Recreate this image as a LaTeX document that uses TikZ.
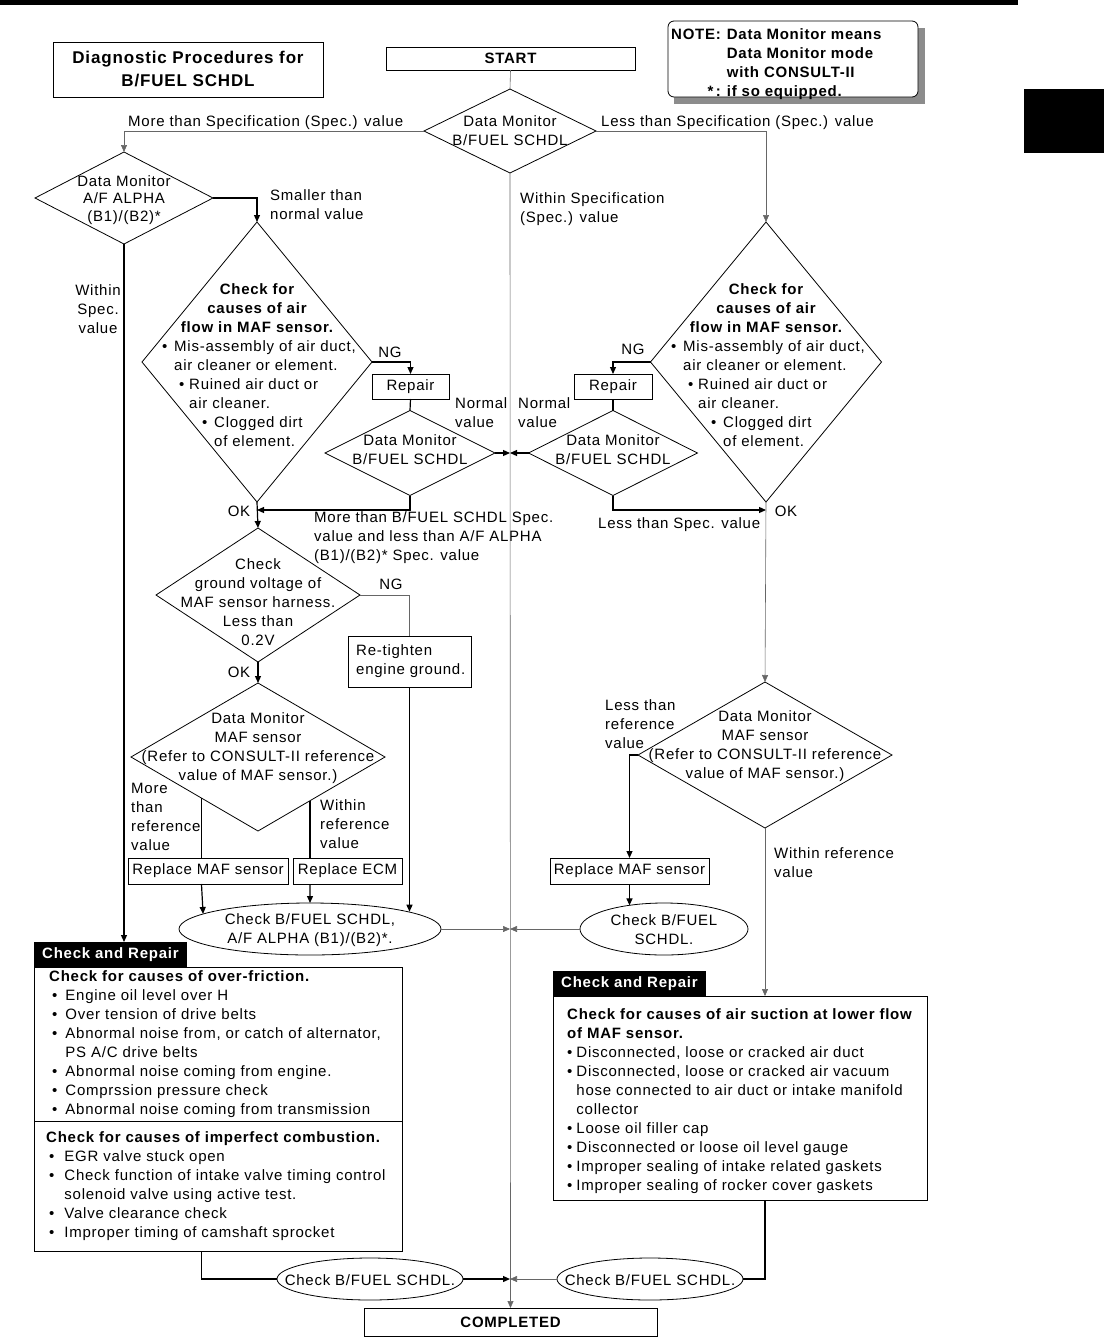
\documentclass[tikz,border=0pt]{standalone}
\usepackage{fontspec}
\setmainfont{Liberation Sans}[LetterSpace=5]
\usetikzlibrary{arrows.meta,calc,shapes.geometric}
\newcommand{\maftext}[1]{%
\node[bft,anchor=base] (#1a) at ($(#1.center)+(0,-68)$) {Check for};
\node[bft,anchor=base] (#1b) at ($(#1.center)+(0,-49)$) {causes of air};
\node[bft,anchor=base] (#1c) at ($(#1.center)+(0,-30)$) {flow in MAF sensor.};
\node[tl] (#1d) at ($(#1.center)+(-95,-11)$) {\textbullet};
\node[tl] (#1e) at ($(#1.center)+(-83,-11)$) {Mis-assembly of air duct,};
\node[tl] (#1f) at ($(#1.center)+(-83,8)$) {air cleaner or element.};
\node[tl] (#1g) at ($(#1.center)+(-78,27)$) {\textbullet};
\node[tl] (#1h) at ($(#1.center)+(-68,27)$) {Ruined air duct or};
\node[tl] (#1i) at ($(#1.center)+(-68,46)$) {air cleaner.};
\node[tl] (#1j) at ($(#1.center)+(-55,65)$) {\textbullet};
\node[tl] (#1k) at ($(#1.center)+(-43,65)$) {Clogged dirt};
\node[tl] (#1l) at ($(#1.center)+(-43,84)$) {of element.};
}
\begin{document}
\begin{tikzpicture}[x=1pt,y=-1pt,
  font=\fontsize{15}{19}\selectfont,
  >={Triangle[length=7pt,width=6pt]},
  dia/.style={diamond, draw, line width=0.8pt, inner sep=0, outer sep=0, aspect=1},
  box/.style={rectangle, draw, line width=0.8pt, inner sep=0, outer sep=0},
  oval/.style={ellipse, draw, line width=0.8pt, inner sep=0, outer sep=0},
  ln/.style={line width=1.2pt, black},
  lg/.style={line width=0.6pt, black!60},
  txt/.style={inner sep=0, align=center},
  lbl/.style={inner sep=0, align=left, anchor=west},
  tl/.style={inner sep=0, anchor=base west},
  bft/.style={inner sep=0, font=\fontsize{15}{19}\selectfont\bfseries}]
\useasboundingbox (0,0) rectangle (1104,1342);
\fill[black] (0,0) rectangle (1018,5);
\fill[black] (1024,89) rectangle (1104,153);

% title and note
\node[box, minimum width=270, minimum height=55, align=center,
  font=\fontsize{17}{23}\selectfont\bfseries] (title) at (188,69.5) {Diagnostic Procedures for\\B/FUEL SCHDL};
\fill[black!45] (674,28) rectangle (925,104);
\node[box, fill=white, rounded corners=6, minimum width=250, minimum height=76] (note) at (793,59) {};
\node[anchor=west, inner sep=0, font=\fontsize{15}{19}\selectfont\bfseries] (notet) at (671,64.5)
 {\begin{tabular}{@{}l@{\hspace{6pt}}l@{}}NOTE: & Data Monitor means\\ & Data Monitor mode\\ & with CONSULT-II\\ \hfill*\,: & if so equipped.\end{tabular}};

% main nodes
\node[box, minimum width=249, minimum height=23, font=\fontsize{15}{19}\selectfont\bfseries] (start) at (510.5,58.5) {START};
\node[dia, minimum width=172, minimum height=84] (d0) at (510,131) {};
\node[txt] (d0t) at (510,131) {Data Monitor\\B/FUEL SCHDL};

\node[dia, minimum width=178, minimum height=92] (d1) at (124,198) {};
\node[txt, font=\fontsize{15}{17.5}\selectfont] (d1t) at (124,200) {Data Monitor\\A/F ALPHA\\(B1)/(B2)*};

\node[dia, minimum width=230, minimum height=280] (d2) at (257,362) {};
\maftext{d2}
\node[dia, minimum width=231, minimum height=280] (d3) at (766,362) {};
\maftext{d3}

\node[box, minimum width=77, minimum height=25] (repL) at (410.5,386.5) {Repair};
\node[box, minimum width=78, minimum height=25] (repR) at (613,386.5) {Repair};

\node[dia, minimum width=170, minimum height=85] (d4) at (410,453) {};
\node[txt] (d4t) at (410,450) {Data Monitor\\B/FUEL SCHDL};
\node[dia, minimum width=169, minimum height=85] (d5) at (613,453) {};
\node[txt] (d5t) at (613,450) {Data Monitor\\B/FUEL SCHDL};

\node[dia, minimum width=204, minimum height=134] (d6) at (258,595) {};
\node[txt] (d6t) at (258,602) {Check\\ground voltage of\\MAF sensor harness.\\Less than\\0.2V};

\node[box, minimum width=123, minimum height=51] (rt) at (409.5,661.5) {};
\node[lbl] (rtt) at (356,661.5) {Re-tighten\\engine ground.};

\node[dia, minimum width=254, minimum height=148] (d7) at (258,757) {};
\node[txt] (d7t) at (258,748) {Data Monitor\\MAF sensor\\(Refer to CONSULT-II reference\\value of MAF sensor.)};
\node[dia, minimum width=254, minimum height=146] (d8) at (765,755) {};
\node[txt] (d8t) at (765,746) {Data Monitor\\MAF sensor\\(Refer to CONSULT-II reference\\value of MAF sensor.)};

\node[box, minimum width=160, minimum height=26] (rmL) at (208,871) {Replace MAF sensor};
\node[box, minimum width=109, minimum height=26] (ecm) at (347.5,871) {Replace ECM};
\node[box, minimum width=159, minimum height=26] (rmR) at (629.5,871) {Replace MAF sensor};

\node[oval, minimum width=262, minimum height=52] (E1) at (310,929) {};
\node[txt] (E1t) at (310,930) {Check B/FUEL SCHDL,\\A/F ALPHA (B1)/(B2)*.};
\node[oval, minimum width=168, minimum height=52] (E2) at (664,929) {};
\node[txt] (E2t) at (664,930) {Check B/FUEL\\SCHDL.};

% check and repair left
\node[box, fill=black, minimum width=152, minimum height=25] (hL) at (110,954.5) {};
\node[anchor=west, inner sep=0, text=white, font=\fontsize{15}{19}\selectfont\bfseries] (hLt) at (42,955) {Check and Repair};
\node[box, minimum width=368, minimum height=284] (bL) at (218,1109) {};
\draw[line width=0.8pt] ($(bL.north west)+(0,154)$) -- ($(bL.north east)+(0,154)$);
\node[anchor=north west, inner sep=0] (bLt1) at (49,968) {%
\begin{tabular}{@{}l@{\hspace{8pt}}l@{}}
\multicolumn{2}{@{}l@{}}{\bfseries Check for causes of over-friction.}\\
\hspace{3pt}\textbullet & Engine oil level over H\\
\hspace{3pt}\textbullet & Over tension of drive belts\\
\hspace{3pt}\textbullet & Abnormal noise from, or catch of alternator,\\
 & PS A/C drive belts\\
\hspace{3pt}\textbullet & Abnormal noise coming from engine.\\
\hspace{3pt}\textbullet & Comprssion pressure check\\
\hspace{3pt}\textbullet & Abnormal noise coming from transmission
\end{tabular}};
\node[anchor=north west, inner sep=0] (bLt2) at (46,1129) {%
\begin{tabular}{@{}l@{\hspace{10pt}}l@{}}
\multicolumn{2}{@{}l@{}}{\bfseries Check for causes of imperfect combustion.}\\
\hspace{3pt}\textbullet & EGR valve stuck open\\
\hspace{3pt}\textbullet & Check function of intake valve timing control\\
 & solenoid valve using active test.\\
\hspace{3pt}\textbullet & Valve clearance check\\
\hspace{3pt}\textbullet & Improper timing of camshaft sprocket
\end{tabular}};

% check and repair right
\node[box, fill=black, minimum width=152, minimum height=25] (hR) at (629,983.5) {};
\node[anchor=west, inner sep=0, text=white, font=\fontsize{15}{19}\selectfont\bfseries] (hRt) at (561,984) {Check and Repair};
\node[box, minimum width=374, minimum height=204] (bR) at (740,1098) {};
\node[anchor=north west, inner sep=0] (bRt) at (567,1006) {%
\begin{tabular}{@{}l@{\hspace{4pt}}l@{}}
\multicolumn{2}{@{}l@{}}{\bfseries Check for causes of air suction at lower flow}\\
\multicolumn{2}{@{}l@{}}{\bfseries of MAF sensor.}\\
\textbullet & Disconnected, loose or cracked air duct\\
\textbullet & Disconnected, loose or cracked air vacuum\\
 & hose connected to air duct or intake manifold\\
 & collector\\
\textbullet & Loose oil filler cap\\
\textbullet & Disconnected or loose oil level gauge\\
\textbullet & Improper sealing of intake related gaskets\\
\textbullet & Improper sealing of rocker cover gaskets
\end{tabular}};

\node[oval, minimum width=186, minimum height=42] (E3) at (370,1279) {};
\node[txt] (E3t) at (370,1280) {Check B/FUEL SCHDL.};
\node[oval, minimum width=186, minimum height=42] (E4) at (650,1279) {};
\node[txt] (E4t) at (650,1280) {Check B/FUEL SCHDL.};

\node[box, minimum width=293, minimum height=28, font=\fontsize{15}{19}\selectfont\bfseries] (done) at (510.5,1322) {COMPLETED};

% labels
\node[tl] (l1) at (128,126) {More than Specification (Spec.) value};
\node[tl] (l2) at (601,126) {Less than Specification (Spec.) value};
\node[lbl] (l3) at (270,205) {Smaller than\\normal value};
\node[lbl] (l4) at (520,209) {Within Specification\\(Spec.) value};
\node[txt] (l5) at (98,309) {Within\\Spec.\\value};
\node[txt] (l6) at (390,352) {NG};
\node[txt] (l7) at (633,349) {NG};
\node[lbl] (l8) at (455,413) {Normal\\value};
\node[lbl] (l9) at (518,413) {Normal\\value};
\node[txt] (l10) at (239,511) {OK};
\node[txt] (l11) at (786,511) {OK};
\node[lbl] (l12) at (314,538) {More than B/FUEL SCHDL Spec.\\value and less than A/F ALPHA\\(B1)/(B2)* Spec. value};
\node[tl] (l13) at (598,528) {Less than Spec. value};
\node[txt] (l14) at (391,584) {NG};
\node[txt] (l15) at (239,672) {OK};
\node[lbl] (l16) at (131,816.5) {More\\than\\reference\\value};
\node[lbl] (l17) at (320,824) {Within\\reference\\value};
\node[lbl] (l18) at (605,724) {Less than\\reference\\value};
\node[lbl] (l19) at (774,862.5) {Within reference\\value};

% connectors
\draw[lg] (start.south) -- (d0.north);
\draw[lg,->] (d0.south) -- (done.north);
\draw[lg,->] (d0.west) -| (d1.north);
\draw[lg,->] (d0.east) -| (d3.north);
\draw[ln,->] (d1.east) -| (d2.north);
\draw[ln,->] (d1.south) -- (d1.south |- hL.north);
\draw[ln,->] (d2.east) -| (repL.north);
\draw[ln] (repL.south) -- (d4.north);
\draw[ln,->] (d4.east) -- (d4.east -| d0.south);
\draw[ln,->] (d3.west) -| (repR.north);
\draw[ln] (repR.south) -- (d5.north);
\draw[ln,->] (d5.west) -- (d5.west -| d0.south);
\coordinate (jL) at (257,510);
\coordinate (jR) at (766,510);
\draw[ln,->] (d4.south) |- (jL);
\draw[ln,->] (d5.south) |- (jR);
\draw[ln,->] (d2.south) -- (d6.north);
\draw[lg,->] (d3.south) -- (d8.north);
\draw[lg] (d6.east) -| (rt.north);
\draw[ln,->] (rt.south) -- (rt.south |- E1.10);
\draw[ln,->] (d6.south) -- (d7.north);
\draw[ln] (d7.216) -- (d7.216 |- rmL.north);
\draw[ln,->] (d7.216 |- rmL.south) -- (E1.172);
\draw[ln] (d7.320) -- (d7.320 |- ecm.north);
\draw[ln,->] (d7.320 |- ecm.south) -- (E1.north);
\draw[lg,->] (E1.east) -- (E1.east -| d0.south);
\draw[ln,->] (d8.west) -| (rmR.north);
\draw[ln,->] (rmR.south) -- (rmR.south |- E2.146);
\draw[lg,->] (E2.west) -- (E2.west -| d0.south);
\draw[lg,->] (d8.south) -- (d8.south |- bR.north);
\draw[ln] (d7.216 |- bL.south) |- (E3.west);
\draw[ln,->] (E3.east) -- (E3.east -| d0.south);
\draw[ln] (d8.south |- bR.south) |- (E4.east);
\draw[lg,->] (E4.west) -- (E4.west -| d0.south);
\end{tikzpicture}
\end{document}
